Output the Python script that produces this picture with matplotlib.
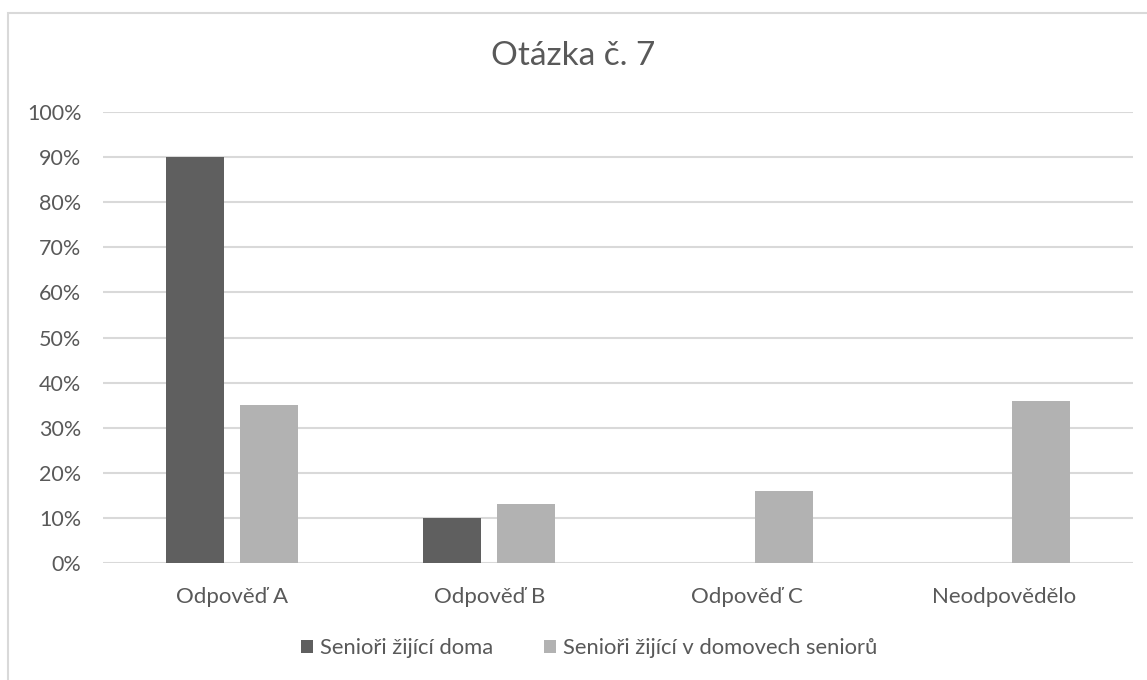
import matplotlib
matplotlib.use("Agg")
import matplotlib.pyplot as plt
import numpy as np
from matplotlib.patches import Rectangle

plt.rcParams['font.family'] = ['Lato', 'DejaVu Sans']

# data
categories = ['Odpověď A', 'Odpověď B', 'Odpověď C', 'Neodpovědělo']
series_names = ['Senioři žijící doma', 'Senioři žijící v domovech seniorů']
doma = [90, 10, 0, 0]
domovy = [35, 13, 16, 36]
yticks = [0, 10, 20, 30, 40, 50, 60, 70, 80, 90, 100]

dark = '#5f5f5f'
light = '#b2b2b2'
text_col = '#595959'

fig = plt.figure(figsize=(11.47, 6.8), dpi=100)
# chart frame: only left and top edges show in the crop
fig.patches.append(Rectangle((8 / 1147, -0.1), 1.2, 667 / 680 + 0.1,
                             transform=fig.transFigure, fill=False,
                             edgecolor='#d9d9d9', linewidth=1.5))

ax = fig.add_axes([103 / 1147, 117 / 680, 1030 / 1147, 451 / 680])

x = np.arange(len(categories))
w = 0.225
off = 0.144
ax.bar(x - off, doma, w, color=dark, label=series_names[0], zorder=3)
ax.bar(x + off, domovy, w, color=light, label=series_names[1], zorder=3)

ax.set_xlim(-0.5, len(categories) - 0.5)
ax.set_ylim(0, 100)
ax.set_yticks(yticks)
ax.set_yticklabels([f'{v}%' for v in yticks])
ax.set_xticks(x)
ax.set_xticklabels(categories)
ax.grid(axis='y', color='#d9d9d9', linewidth=1.5, zorder=0)
for s in ax.spines.values():
    s.set_visible(False)
ax.tick_params(length=0, labelcolor=text_col)
ax.tick_params(axis='y', labelsize=15.5, pad=15.5)
ax.tick_params(axis='x', labelsize=16, pad=17.5)

fig.text(0.5, 1 - 56 / 680, 'Otázka č. 7', ha='center', va='center',
         fontsize=24, color=text_col)

fig.legend(loc='center', bbox_to_anchor=(589 / 1147, 1 - 648 / 680), ncol=2,
           frameon=False, fontsize=15.8, labelcolor=text_col, handlelength=0.55,
           handleheight=0.55, handletextpad=0.32, columnspacing=2.3)

fig.savefig('out.png', dpi=100)
